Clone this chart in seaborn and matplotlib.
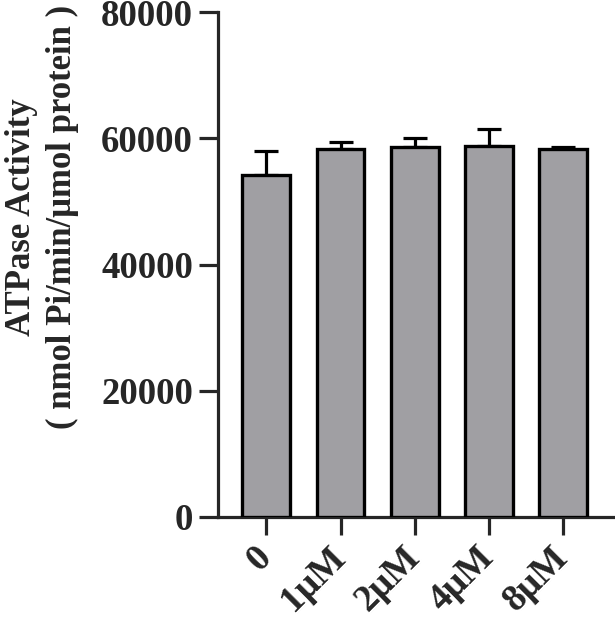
import matplotlib
matplotlib.use("Agg")
import matplotlib.pyplot as plt
import seaborn as sns
import pandas as pd

categories = ["0", "1μM", "2μM", "4μM", "8μM"]
values = [54200, 58250, 58550, 58700, 58250]
errors = [3800, 1100, 1550, 2800, 420]
yticks = [0, 20000, 40000, 60000, 80000]

sns.set_style("ticks")
plt.rcParams["font.family"] = ["Liberation Serif", "DejaVu Serif"]
plt.rcParams["font.weight"] = "bold"

df = pd.DataFrame({"group": categories, "activity": values})

fig = plt.figure(figsize=(6.15, 6.23), dpi=100)
ax = fig.add_axes([218/615, 1 - 517/623, (613-218)/615, (517-12)/623])

sns.barplot(data=df, x="group", y="activity", order=categories, color="#a09fa3",
            saturation=1, width=0.645, edgecolor="black", linewidth=2.4,
            errorbar=None, ax=ax, zorder=3)
ax.errorbar(range(len(categories)), values, yerr=[[0]*len(errors), errors],
            fmt="none", ecolor="black", elinewidth=2.3, capsize=8.5, capthick=2.3, zorder=2)

ax.set_ylim(0, 80000)
ax.set_xlim(-0.65, 4.67)
ax.set_yticks(yticks)
ax.set_yticklabels([str(t) for t in yticks], fontsize=26.5, fontweight="bold")
ax.set_xticks(range(len(categories)))
ax.set_xticklabels(categories, fontsize=27, fontweight="bold", rotation=45,
                   ha="right", va="center", rotation_mode="anchor")
ax.tick_params(axis="y", length=14, width=2.3, pad=4)
ax.tick_params(axis="x", length=13, width=2.3, pad=12)
for s in ["left", "bottom"]:
    ax.spines[s].set_linewidth(2.3)
sns.despine(ax=ax)
ax.set_xlabel("")
ax.set_ylabel("ATPase Activity\n( nmol Pi/min/μmol protein )", fontsize=25,
              fontweight="bold", linespacing=1.3, va="center", ha="center",
              multialignment="center")
ax.yaxis.set_label_coords(-0.445, 0.594)

fig.savefig("out.png", dpi=100)
